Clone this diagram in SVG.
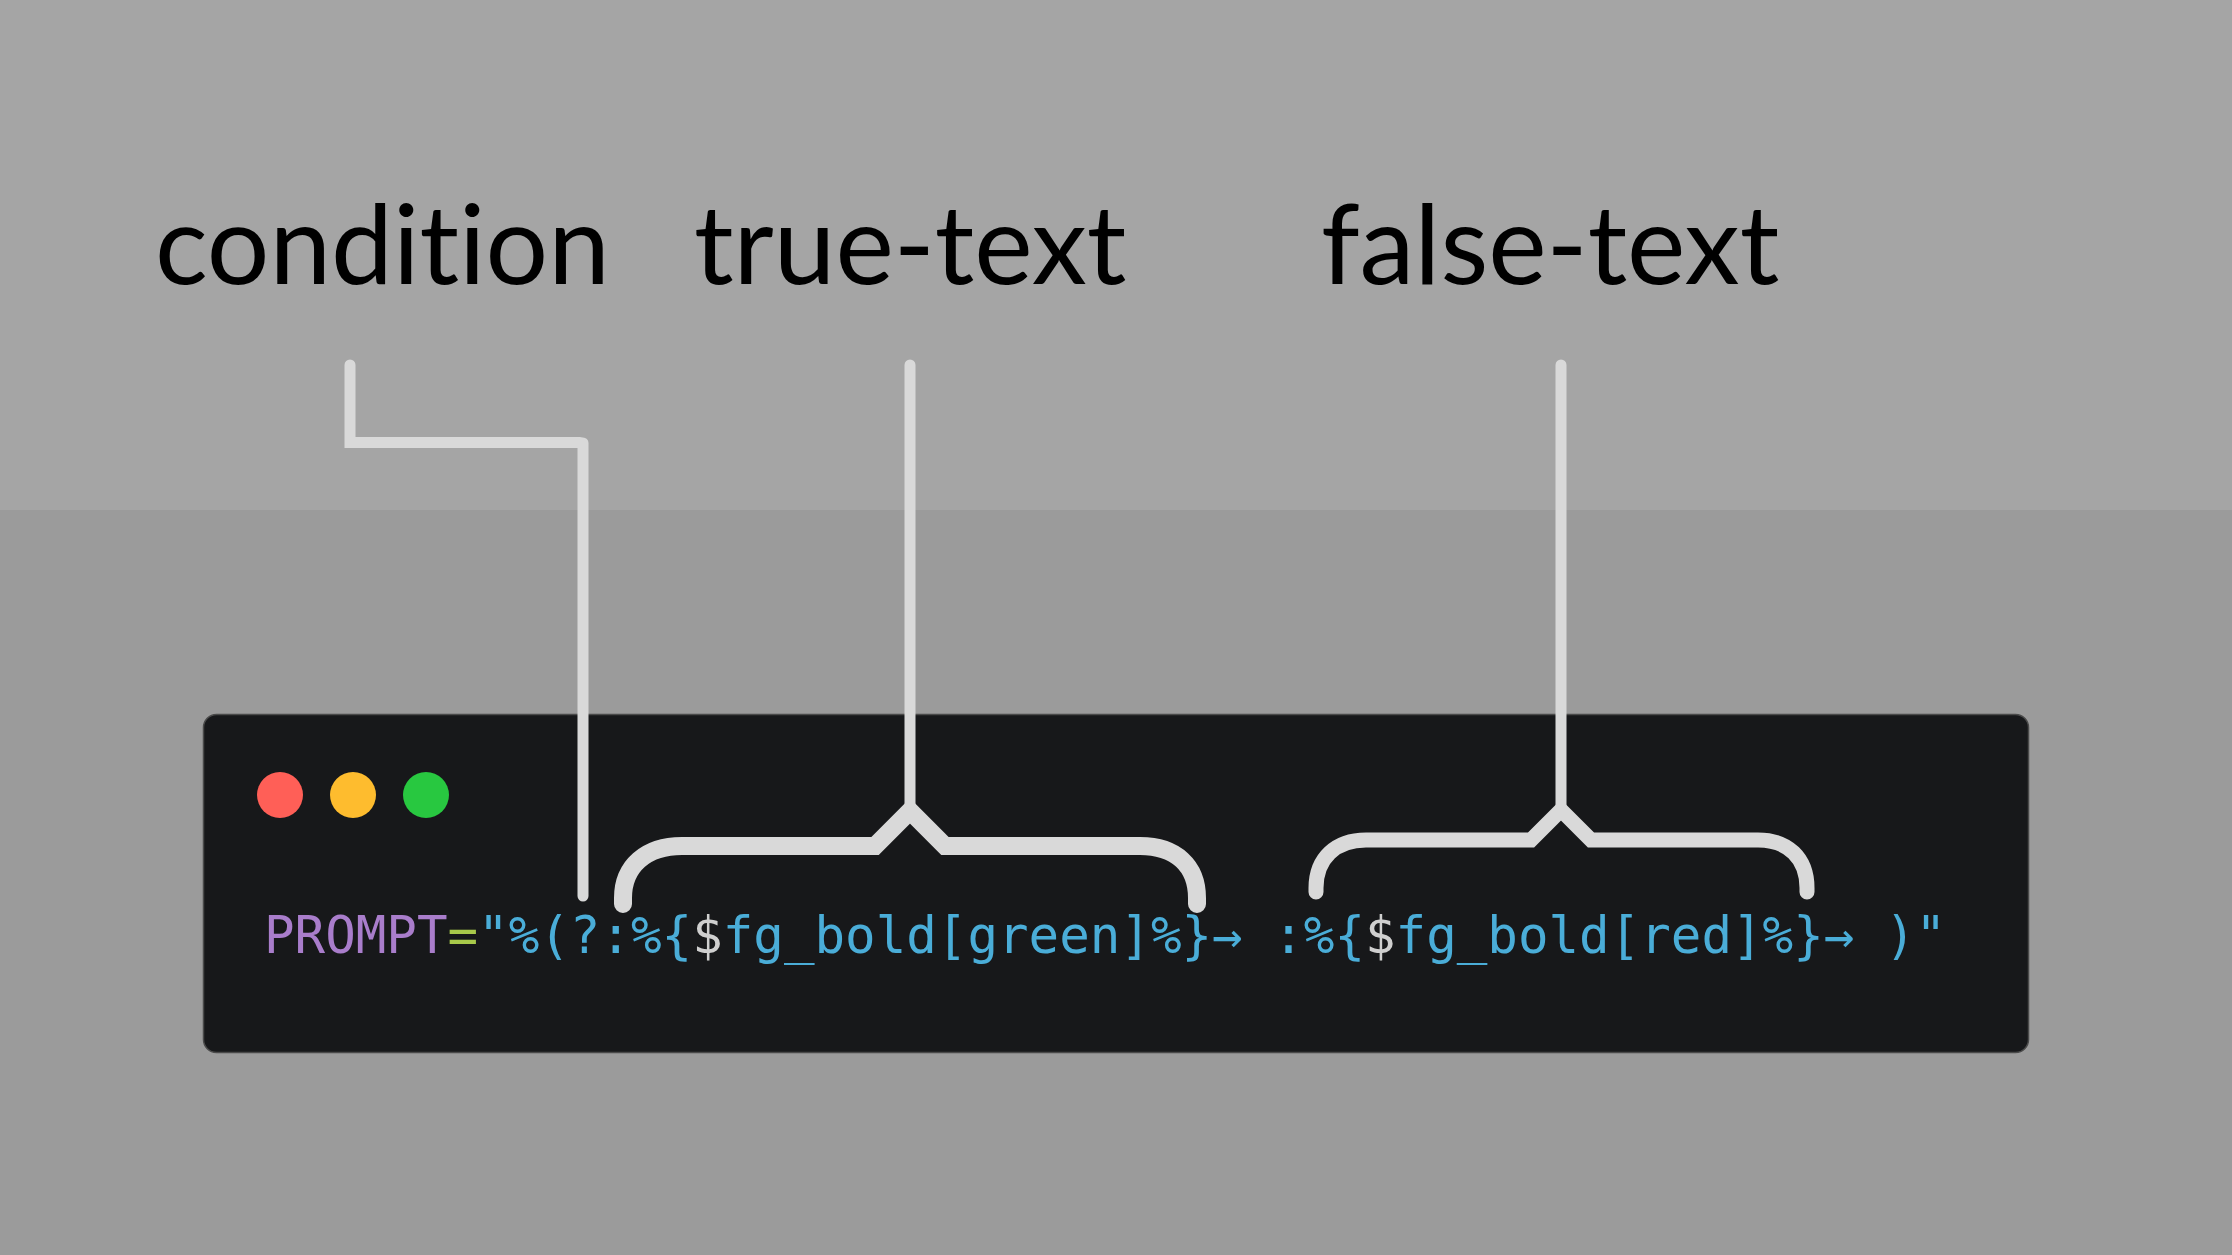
<svg xmlns="http://www.w3.org/2000/svg" width="2232" height="1255" viewBox="0 0 2232 1255">
  <style>
    .label { font-family: Lato, "Open Sans", "Liberation Sans", sans-serif; font-size: 110.5px; fill: #000000; font-variant-ligatures: none; font-feature-settings: "liga" 0, "clig" 0; }
    .code { font-family: "DejaVu Sans Mono", "Liberation Mono", monospace; font-size: 50.8px; white-space: pre; }
    .purple { fill: #a97dcb; }
    .lime { fill: #a8c94a; }
    .blue { fill: #4aadd8; }
    .white { fill: #cfcfcf; }
    .conn { fill: none; stroke: #d9d9d9; stroke-linecap: round; stroke-linejoin: miter; }
  </style>
  <rect x="0" y="0" width="2232" height="510" fill="#a5a5a5"/>
  <rect x="0" y="510" width="2232" height="745" fill="#9b9b9b"/>

  <g id="label-condition"><text class="label" x="155" y="284">condition</text></g>
  <g id="label-true-text"><text class="label" x="694" y="284">true-text</text></g>
  <g id="label-false-text"><text class="label" x="1321" y="284">false-text</text></g>

  <g id="terminal">
    <rect x="203.5" y="714.5" width="1825" height="338" rx="13" ry="13" fill="#17181a" stroke="#4a4a4a" stroke-width="1.5"/>
    <circle cx="280" cy="795" r="23" fill="#ff5f57"/>
    <circle cx="353" cy="795" r="23" fill="#febc2e"/>
    <circle cx="426" cy="795" r="23" fill="#28c840"/>
    <text class="code" x="264" y="953"><tspan class="purple">PROMPT</tspan><tspan class="lime">=</tspan><tspan class="blue">"%(?:%{</tspan><tspan class="white">$</tspan><tspan class="blue">fg_bold[green]%}→ :%{</tspan><tspan class="white">$</tspan><tspan class="blue">fg_bold[red]%}→ )"</tspan></text>
  </g>

  <g id="connectors">
    <path class="conn" stroke-width="11" d="M 350 365 L 350 442.5 L 580 442.5"/>
    <path class="conn" stroke-width="11" d="M 583 443 L 583 896"/>
    <path class="conn" stroke-width="11" d="M 910 365 L 910 808"/>
    <path class="conn" stroke-width="18" d="M 623 904 L 623 898 C 623 866 646 846 682 846 L 875 846 L 910 811 L 945 846 L 1140 846 C 1176 846 1197 866 1197 898 L 1197 904"/>
    <path class="conn" stroke-width="11" d="M 1561 365 L 1561 806"/>
    <path class="conn" stroke-width="15" d="M 1316 892 L 1316 888 C 1316 858 1336 840 1366 840 L 1531 840 L 1561 810 L 1591 840 L 1758 840 C 1788 840 1807 858 1807 888 L 1807 892"/>
  </g>
</svg>
